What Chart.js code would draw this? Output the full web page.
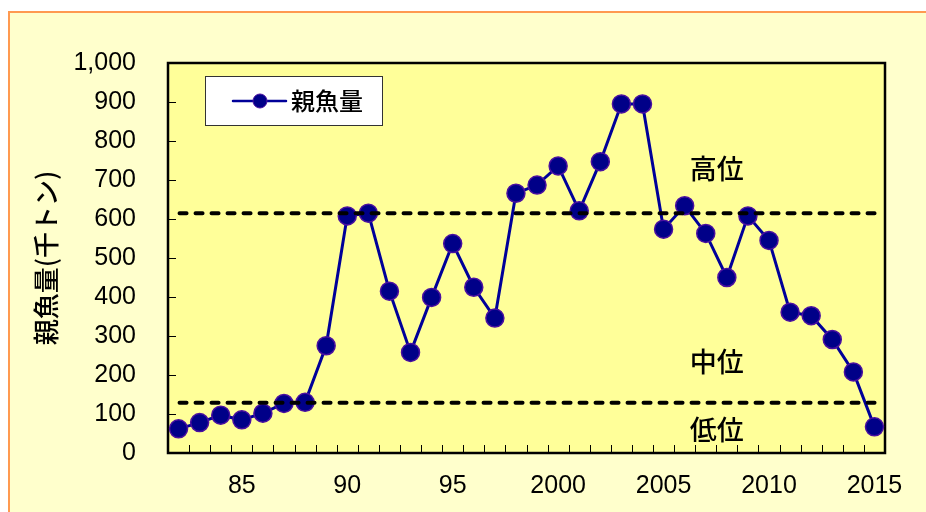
<!DOCTYPE html>
<html>
<head>
<meta charset="utf-8">
<script src="https://cdn.jsdelivr.net/npm/chart.js@4"></script>
<style>
  html, body { margin: 0; padding: 0; background: #ffffff; }
  #wrap { position: relative; width: 926px; height: 512px; }
  canvas { display: block; }
</style>
</head>
<body>
<div id="wrap"><canvas id="c" width="926" height="512"></canvas></div>
<script>
// 親魚量 (千トン), 1982–2015
const years = [1982,1983,1984,1985,1986,1987,1988,1989,1990,1991,1992,1993,1994,1995,1996,1997,1998,1999,
               2000,2001,2002,2003,2004,2005,2006,2007,2008,2009,2010,2011,2012,2013,2014,2015];
const spawningBiomass = [62,78,97,85,102,127,130,275,608,615,415,258,399,537,425,346,666,687,
                         736,621,747,895,895,574,634,563,450,608,545,361,352,291,208,67];

// x-axis labelled years and their displayed text
const labelYears = [1985,1990,1995,2000,2005,2010,2015];
const labelTexts = ['85','90','95','2000','2005','2010','2015'];

// level boundaries (高位/中位, 中位/低位)
const highBoundary = 615;
const lowBoundary = 129;

// level names and the value at which each is written
const levelNames = ['高位','中位','低位'];
const levelValues = [730,235,60];

const seriesName = '親魚量';
const axisTitle = '親魚量(千トン)';

const CJK = '"Noto Sans CJK JP", "Noto Sans", sans-serif';
const NUM = '"Liberation Sans", Arial, sans-serif';

// page background, orange frame and plot fill
const backdrop = {
  id: 'backdrop',
  beforeDraw(chart) {
    const {ctx, chartArea: a} = chart;
    ctx.save();
    ctx.fillStyle = '#ffffff';
    ctx.fillRect(0, 0, chart.width, chart.height);
    ctx.fillStyle = '#ffffcc';
    ctx.fillRect(9, 12, chart.width - 9, chart.height - 12);
    ctx.strokeStyle = '#ff9a50';
    ctx.lineWidth = 2;
    ctx.beginPath();
    ctx.moveTo(chart.width, 12);
    ctx.lineTo(9, 12);
    ctx.lineTo(9, chart.height);
    ctx.stroke();
    ctx.fillStyle = '#ffff99';
    ctx.fillRect(a.left, a.top, a.right - a.left, a.bottom - a.top);
    ctx.restore();
  }
};

// inward tick marks and the plot frame
const frame = {
  id: 'frame',
  beforeDatasetsDraw(chart) {
    const {ctx, chartArea: a, scales: {x, y}} = chart;
    ctx.save();
    ctx.strokeStyle = '#000000';
    ctx.lineWidth = 1;
    ctx.beginPath();
    for (let i = 0; i < years.length - 1; i++) {
      const px = Math.round((x.getPixelForValue(i) + x.getPixelForValue(i + 1)) / 2) + 0.5;
      ctx.moveTo(px, a.bottom);
      ctx.lineTo(px, a.bottom - 8);
    }
    for (let v = 100; v < 1000; v += 100) {
      const py = Math.round(y.getPixelForValue(v)) + 0.5;
      ctx.moveTo(a.left, py);
      ctx.lineTo(a.left + 8, py);
    }
    ctx.stroke();
    ctx.lineWidth = 2.5;
    ctx.strokeRect(a.left, a.top, a.right - a.left, a.bottom - a.top);
    ctx.restore();
  }
};

// dashed level boundaries, level names and the legend box
const overlay = {
  id: 'overlay',
  afterDatasetsDraw(chart) {
    const {ctx, scales: {x, y}} = chart;
    const x0 = x.getPixelForValue(0) - 1;
    const x1 = x.getPixelForValue(years.length - 1) + 2;
    ctx.save();
    ctx.strokeStyle = '#000000';
    ctx.lineWidth = 4;
    ctx.lineCap = 'round';
    ctx.setLineDash([7, 9]);
    [highBoundary, lowBoundary].forEach(v => {
      const py = y.getPixelForValue(v);
      ctx.beginPath();
      ctx.moveTo(x0 + 2, py);
      ctx.lineTo(x1, py);
      ctx.stroke();
    });
    ctx.setLineDash([]);

    ctx.fillStyle = '#000000';
    ctx.font = '500 27px ' + CJK;
    ctx.textAlign = 'center';
    ctx.textBaseline = 'middle';
    const lx = x.getPixelForValue(years.indexOf(2007)) + 11;
    levelNames.forEach((t, i) => ctx.fillText(t, lx, y.getPixelForValue(levelValues[i])));

    // legend
    const ds = chart.data.datasets[0];
    ctx.fillStyle = '#ffffff';
    ctx.fillRect(205, 76, 177, 49);
    ctx.strokeStyle = '#333333';
    ctx.lineWidth = 1;
    ctx.strokeRect(205.5, 76.5, 177, 49);
    ctx.strokeStyle = ds.borderColor;
    ctx.lineWidth = 2.5;
    ctx.beginPath();
    ctx.moveTo(233, 101);
    ctx.lineTo(286, 101);
    ctx.stroke();
    ctx.beginPath();
    ctx.arc(260, 101, 7, 0, Math.PI * 2);
    ctx.fillStyle = ds.pointBackgroundColor;
    ctx.fill();
    ctx.strokeStyle = ds.pointBorderColor;
    ctx.lineWidth = 1;
    ctx.stroke();
    ctx.fillStyle = '#000000';
    ctx.font = '500 24px ' + CJK;
    ctx.textAlign = 'left';
    ctx.fillText(ds.label, 291, 101);
    ctx.restore();
  }
};

new Chart(document.getElementById('c'), {
  type: 'line',
  data: {
    labels: years,
    datasets: [{
      label: seriesName,
      data: spawningBiomass,
      borderColor: '#000099',
      borderWidth: 3,
      pointRadius: 9,
      pointBorderWidth: 1.5,
      pointBackgroundColor: '#000088',
      pointBorderColor: '#4a10a0',
      tension: 0,
      clip: false
    }]
  },
  options: {
    responsive: false,
    animation: false,
    devicePixelRatio: 1,
    layout: { padding: { top: 63, right: 41, left: 0, bottom: 0 } },
    plugins: {
      legend: { display: false },
      tooltip: { enabled: false }
    },
    scales: {
      x: {
        type: 'category',
        offset: true,
        grid: { display: false, drawTicks: false },
        border: { display: false },
        afterFit(s) { s.height = 59; },
        ticks: {
          autoSkip: false,
          maxRotation: 0,
          padding: 18,
          color: '#000000',
          font: { family: NUM, size: 25 },
          callback(value) {
            const k = labelYears.indexOf(years[value]);
            return k >= 0 ? labelTexts[k] : '';
          }
        }
      },
      y: {
        min: 0,
        max: 1000,
        grid: { display: false, drawTicks: false },
        border: { display: false },
        afterFit(s) { s.width = 168; },
        ticks: {
          stepSize: 100,
          padding: 32,
          color: '#000000',
          font: { family: NUM, size: 25 },
          callback: v => v.toLocaleString('en-US')
        },
        title: {
          display: true,
          text: axisTitle,
          color: '#000000',
          font: { family: CJK, size: 26, weight: '500' },
          padding: { top: 31, bottom: 0 }
        }
      }
    }
  },
  plugins: [backdrop, frame, overlay]
});
</script>
</body>
</html>
